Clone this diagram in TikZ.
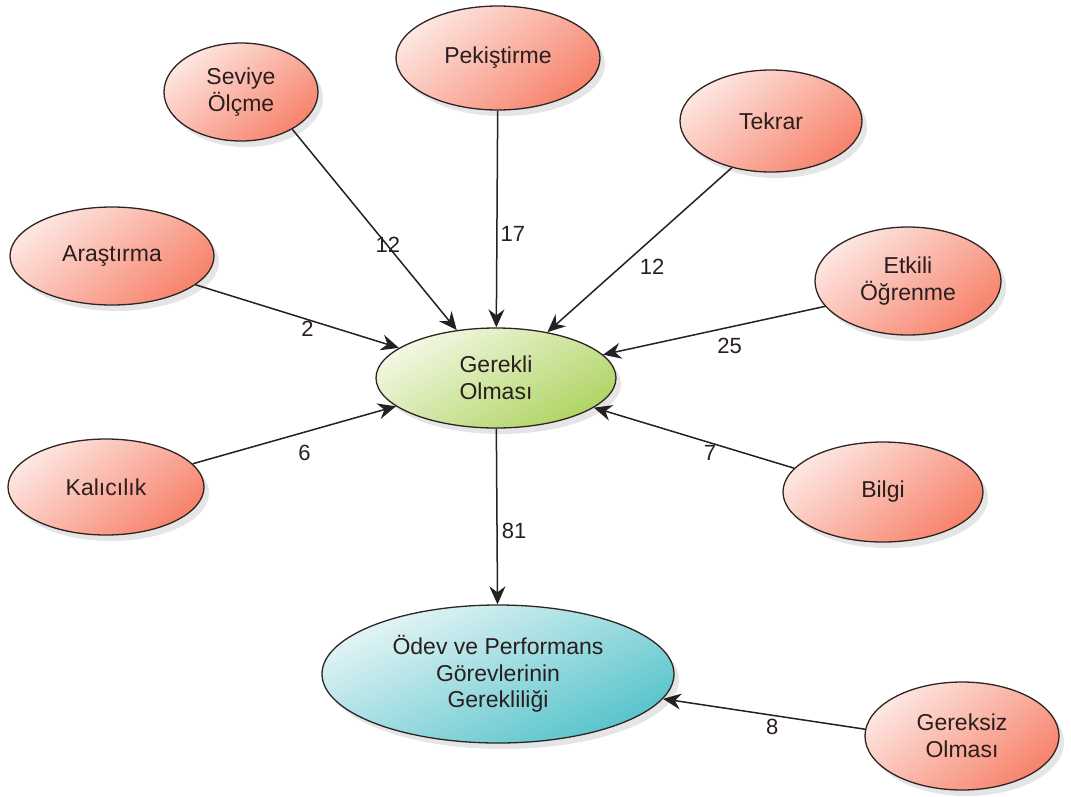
\documentclass[tikz,border=0pt]{standalone}
\usepackage{fontspec}
\setmainfont{Liberation Sans}
\usetikzlibrary{shapes.geometric,arrows.meta,shadows,backgrounds}

\definecolor{outline}{HTML}{2E2424}
\definecolor{txt}{HTML}{2A1E1E}
\definecolor{wire}{HTML}{222222}
\definecolor{pinkA}{HTML}{FDE6E1}
\definecolor{pinkB}{HTML}{F7836C}
\definecolor{greenA}{HTML}{F3F8E4}
\definecolor{greenB}{HTML}{AFD463}
\definecolor{cyanA}{HTML}{E6F5F6}
\definecolor{cyanB}{HTML}{55C3CB}

\tikzset{
  bubble/.style={ellipse, draw=outline, line width=1.3pt, inner sep=0pt,
    align=center, text=txt, font=\fontsize{23}{26.5}\selectfont,
    drop shadow={shadow xshift=5pt, shadow yshift=-6pt, opacity=0.10, fill=black}},
  pinkbub/.style={bubble, top color=pinkA, bottom color=pinkB, shading angle=40},
  greenbub/.style={bubble, top color=greenA, bottom color=greenB, shading angle=30},
  cyanbub/.style={bubble, top color=cyanA, bottom color=cyanB, shading angle=25},
  conn/.style={draw=wire, line width=1.5pt,
    -{Stealth[length=18pt, width=16pt, inset=6pt]}},
  ghost/.style={draw=black!7, line width=1.5pt,
    -{Stealth[length=18pt, width=16pt, inset=6pt]},
    transform canvas={shift={(20pt,-16pt)}}},
  lbl/.style={text=txt, font=\fontsize{22}{24}\selectfont, inner sep=0pt}
}

\begin{document}
\begin{tikzpicture}[x=1pt,y=-1pt]
\useasboundingbox[fill=white] (0,0) rectangle (1071,796);

% concept bubbles
\node[pinkbub, minimum width=154, minimum height=98] (sev) at (241,92) {Seviye\\Ölçme};
\node[pinkbub, minimum width=204, minimum height=104] (pek) at (498,58) {Pekiştirme};
\node[pinkbub, minimum width=182, minimum height=102] (tek) at (771,121) {Tekrar};
\node[pinkbub, minimum width=204, minimum height=98] (ara) at (112,256) {Araştırma};
\node[pinkbub, minimum width=186, minimum height=108] (etk) at (908,281) {Etkili\\Öğrenme};
\node[greenbub, minimum width=240, minimum height=100] (ger) at (496,378) {Gerekli\\Olması};
\node[pinkbub, minimum width=196, minimum height=96] (kal) at (106,487) {Kalıcılık};
\node[pinkbub, minimum width=200, minimum height=100] (bil) at (883,492) {Bilgi};
\node[cyanbub, minimum width=352, minimum height=138] (odev) at (498,674) {Ödev ve Performans\\Görevlerinin\\Gerekliliği};
\node[pinkbub, minimum width=194, minimum height=108] (grs) at (962,736) {Gereksiz\\Olması};

% faint connector shadows
\begin{scope}[on background layer]
  \draw[ghost] (sev.-36) -- (ger);
  \draw[ghost] (pek) -- (ger);
  \draw[ghost] (tek.-130) -- (ger);
  \draw[ghost] (ara.-19) -- (ger);
  \draw[ghost] (etk.197) -- (ger);
  \draw[ghost] (kal.15) -- (ger);
  \draw[ghost] (bil.165) -- (ger);
  \draw[ghost] (ger) -- (odev);
  \draw[ghost] (grs.176) -- (odev);
\end{scope}

% weighted connectors
\draw[conn] (sev.-36) -- (ger) node[lbl, pos=0.575, xshift=1pt] (l1) {12};
\draw[conn] (pek) -- (ger) node[lbl, pos=0.57, xshift=16pt] (l2) {17};
\draw[conn] (tek.-130) -- (ger) node[lbl, pos=0.6, xshift=31pt] (l3) {12};
\draw[conn] (ara.-19) -- (ger) node[lbl, pos=0.55, yshift=-9pt] (l4) {2};
\draw[conn] (etk.197) -- (ger) node[lbl, pos=0.43, yshift=-19pt] (l5) {25};
\draw[conn] (kal.15) -- (ger) node[lbl, pos=0.55, yshift=-21pt] (l6) {6};
\draw[conn] (bil.165) -- (ger) node[lbl, pos=0.42, yshift=-10pt] (l7) {7};
\draw[conn] (ger) -- (odev) node[lbl, pos=0.58, xshift=17pt] (l8) {81};
\draw[conn] (grs.176) -- (odev) node[lbl, pos=0.46, yshift=-12pt] (l9) {8};
\end{tikzpicture}
\end{document}
